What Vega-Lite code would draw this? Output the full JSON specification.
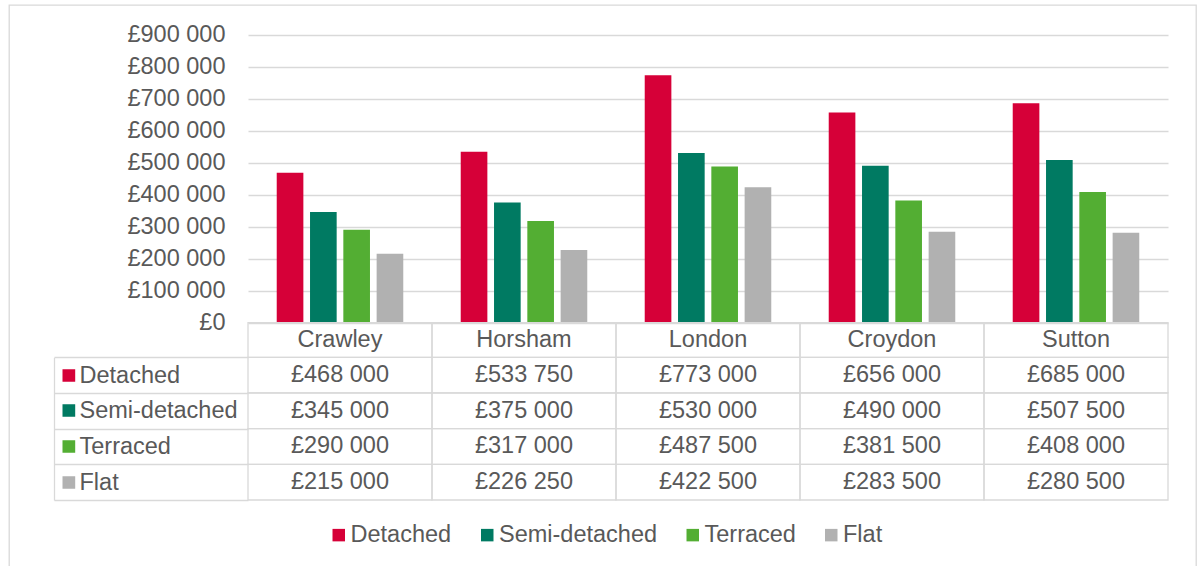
{
  "$schema": "https://vega.github.io/schema/vega-lite/v6.json",
  "width": 1187,
  "height": 562,
  "autosize": {"type": "none"},
  "padding": {"left": 9, "top": 5, "right": 1, "bottom": -1},
  "background": "white",
  "config": {
    "font": "Liberation Sans",
    "view": {"stroke": "#D9D9D9", "strokeWidth": 1.3},
    "locale": {"number": {"decimal": ".", "thousands": " ", "grouping": [3], "currency": ["£", ""]}}
  },
  "datasets": {
    "prices": [
      {"city": "Crawley", "type": "Detached", "value": 468000},
      {"city": "Crawley", "type": "Semi-detached", "value": 345000},
      {"city": "Crawley", "type": "Terraced", "value": 290000},
      {"city": "Crawley", "type": "Flat", "value": 215000},
      {"city": "Horsham", "type": "Detached", "value": 533750},
      {"city": "Horsham", "type": "Semi-detached", "value": 375000},
      {"city": "Horsham", "type": "Terraced", "value": 317000},
      {"city": "Horsham", "type": "Flat", "value": 226250},
      {"city": "London", "type": "Detached", "value": 773000},
      {"city": "London", "type": "Semi-detached", "value": 530000},
      {"city": "London", "type": "Terraced", "value": 487500},
      {"city": "London", "type": "Flat", "value": 422500},
      {"city": "Croydon", "type": "Detached", "value": 656000},
      {"city": "Croydon", "type": "Semi-detached", "value": 490000},
      {"city": "Croydon", "type": "Terraced", "value": 381500},
      {"city": "Croydon", "type": "Flat", "value": 283500},
      {"city": "Sutton", "type": "Detached", "value": 685000},
      {"city": "Sutton", "type": "Semi-detached", "value": 507500},
      {"city": "Sutton", "type": "Terraced", "value": 408000},
      {"city": "Sutton", "type": "Flat", "value": 280500}
    ],
    "cities": [
      {"city": "Crawley"},
      {"city": "Horsham"},
      {"city": "London"},
      {"city": "Croydon"},
      {"city": "Sutton"}
    ]
  },
  "resolve": {"scale": {"y": "independent"}},
  "layer": [
    {
      "data": {"name": "prices"},
      "mark": {"type": "bar"},
      "encoding": {
        "x": {
          "field": "city", "type": "nominal",
          "scale": {"domain": ["Crawley", "Horsham", "London", "Croydon", "Sutton"], "range": [239, 1159], "paddingInner": 0, "paddingOuter": 0},
          "axis": null
        },
        "xOffset": {
          "field": "type", "type": "nominal",
          "scale": {"domain": ["Detached", "Semi-detached", "Terraced", "Flat"], "paddingInner": 0.2, "paddingOuter": 0.8625}
        },
        "y": {
          "field": "value", "type": "quantitative",
          "scale": {"domain": [0, 900000], "range": [317.5, 29.5], "nice": false, "zero": true},
          "axis": {
            "orient": "left", "offset": -239,
            "values": [0, 100000, 200000, 300000, 400000, 500000, 600000, 700000, 800000, 900000],
            "format": "$,.0f",
            "grid": true, "gridColor": "#D9D9D9", "gridWidth": 1.3,
            "domain": false, "ticks": false, "tickSize": 0,
            "labelPadding": 23, "labelFontSize": 23.5, "labelColor": "#595959",
            "title": null
          }
        },
        "color": {
          "field": "type", "type": "nominal",
          "scale": {"domain": ["Detached", "Semi-detached", "Terraced", "Flat"], "range": ["#D60038", "#007A62", "#53AE33", "#B1B1B1"]},
          "legend": {
            "orient": "none", "legendX": 318, "legendY": 518,
            "direction": "horizontal", "title": null,
            "symbolType": "square", "symbolSize": 156, "symbolStrokeWidth": 0,
            "labelFontSize": 23.5, "labelColor": "#595959", "labelOffset": 0,
            "columnPadding": 23.5, "labelLimit": 300
          }
        }
      }
    },
    {
      "data": {"name": "prices"},
      "mark": {"type": "rect", "fillOpacity": 0, "stroke": "#D9D9D9", "strokeWidth": 1.3},
      "encoding": {
        "x": {"field": "city", "type": "nominal", "axis": null},
        "y": {
          "field": "type", "type": "nominal",
          "scale": {"domain": ["Detached", "Semi-detached", "Terraced", "Flat"], "range": [352.3, 495], "paddingInner": 0, "paddingOuter": 0},
          "axis": {
            "orient": "left", "offset": -45,
            "domain": false, "grid": false, "labels": false,
            "ticks": true, "tickBand": "center", "tickSize": -20.7, "tickWidth": 12.7,
            "tickDash": [0, 8, 12.7, 0],
            "tickColor": {"expr": "scale('color', datum.value)"},
            "title": null
          }
        }
      }
    },
    {
      "data": {"name": "prices"},
      "mark": {"type": "text", "fontSize": 23.5, "color": "#595959", "align": "center", "baseline": "middle"},
      "encoding": {
        "x": {"field": "city", "type": "nominal", "axis": null},
        "y": {
          "field": "type", "type": "nominal",
          "scale": {"domain": ["Detached", "Semi-detached", "Terraced", "Flat"], "range": [352.3, 495], "paddingInner": 0, "paddingOuter": 0},
          "axis": {
            "orient": "left", "offset": -45,
            "domain": true, "domainColor": "#D9D9D9", "domainWidth": 1.3,
            "grid": false,
            "ticks": true, "tickBand": "extent", "tickSize": -194, "tickColor": "#D9D9D9", "tickWidth": 1.3,
            "labels": true, "labelAlign": "left", "labelBaseline": "middle", "labelPadding": 169,
            "labelFontSize": 23.5, "labelColor": "#595959", "labelLimit": 300,
            "title": null
          }
        },
        "text": {"field": "value", "type": "quantitative", "format": "$,"}
      }
    },
    {
      "data": {"name": "cities"},
      "mark": {"type": "rect", "fillOpacity": 0, "stroke": "#D9D9D9", "strokeWidth": 1.3},
      "encoding": {
        "x": {"field": "city", "type": "nominal", "axis": null},
        "y": {"datum": "Header", "type": "nominal", "scale": {"domain": ["Header"], "range": [317.7, 352.3], "paddingInner": 0, "paddingOuter": 0}, "axis": null}
      }
    },
    {
      "data": {"name": "cities"},
      "mark": {"type": "text", "fontSize": 23.5, "color": "#595959", "align": "center", "baseline": "middle"},
      "encoding": {
        "x": {"field": "city", "type": "nominal", "axis": null},
        "y": {"datum": "Header", "type": "nominal", "scale": {"domain": ["Header"], "range": [317.7, 352.3], "paddingInner": 0, "paddingOuter": 0}, "axis": null},
        "text": {"field": "city", "type": "nominal"}
      }
    }
  ]
}
